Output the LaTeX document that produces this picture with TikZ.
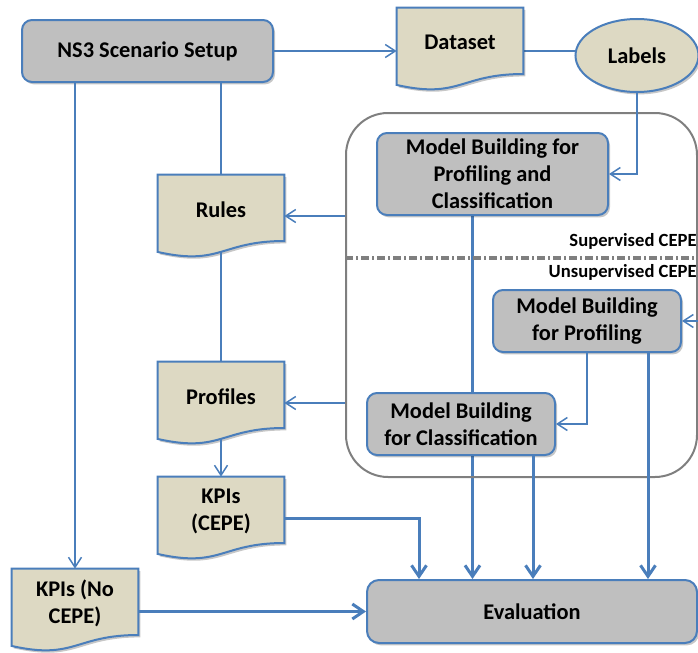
\documentclass[tikz,border=0pt]{standalone}
\usepackage{fontspec}
\setmainfont{Carlito}
\usetikzlibrary{positioning,calc,arrows.meta,shapes.geometric,shadows,backgrounds}

\definecolor{boxgray}{HTML}{BFBFBF}
\definecolor{docbeige}{HTML}{DDD9C3}
\definecolor{edgeblue}{HTML}{4A7EBB}
\definecolor{framegray}{HTML}{7F7F7F}

\tikzset{
  lbl/.style={font=\fontsize{11.2}{13.4}\selectfont\bfseries, align=center},
  softshadow/.style={drop shadow={shadow xshift=1pt, shadow yshift=-1.2pt, opacity=0.22, fill=black}},
  procbox/.style={lbl, draw=edgeblue, line width=1pt, fill=boxgray, rounded corners=5pt, inner sep=0pt, softshadow},
  ellbox/.style={lbl, ellipse, draw=edgeblue, line width=1pt, fill=docbeige, inner sep=0pt, softshadow},
  docframe/.style={minimum width=63pt, minimum height=41pt, inner sep=0pt},
  docshape/.style={draw=edgeblue, line width=1pt, fill=docbeige, softshadow},
  doctext/.style={lbl, inner sep=0pt},
  cepebox/.style={draw=framegray, line width=1pt, rounded corners=21pt, minimum width=175.5pt, minimum height=182pt},
  divider/.style={draw=framegray, line width=1.6pt, dash pattern=on 4pt off 1.5pt on 1pt off 1.5pt},
  caption/.style={font=\fontsize{9.3}{11}\selectfont\bfseries, inner sep=0pt, anchor=east},
  thinline/.style={draw=edgeblue, line width=0.75pt},
  thinarrow/.style={thinline, -{Straight Barb[length=5pt, width=6.5pt]}},
  thickarrow/.style={draw=edgeblue, line width=1.5pt, -{Straight Barb[length=5.5pt, width=7.5pt]}}
}

% document shape with the wavy bottom edge
\newcommand{\docnode}[3]{%
  \node[docframe] (#1) at (#2) {};
  \filldraw[docshape] (#1.north west) -- (#1.north east) -- ($(#1.north east)!0.802!(#1.south east)$)
    .. controls ($(#1.north)!0.802!(#1.south)$) and ($(#1.north)!1.107!(#1.south)$) .. ($(#1.north west)!0.934!(#1.south west)$) -- cycle;
  \node[doctext] (#1-text) at ($(#1.north)!0.42!(#1.south)$) {#3};
}

\begin{document}
\begin{tikzpicture}[x=0.5pt,y=-0.5pt]
  \useasboundingbox (0,0) rectangle (698,653);

  \node[procbox, minimum width=125.5pt, minimum height=31pt] (setup) at (147.5,51) {NS3 Scenario Setup};
  \docnode{dataset}{460,49}{Dataset}
  \node[ellbox, minimum width=61.5pt, minimum height=36.5pt] (labels) at (637,55.5) {Labels};

  % CEPE block
  \node[cepebox] (cepe) at (521.5,295) {};
  \draw[divider] (cepe.west |- 0,258) -- (cepe.east |- 0,258);
  \node[caption] (sup) at (697,241) {Supervised CEPE};
  \node[caption] (unsup) at (697,272) {Unsupervised CEPE};
  \node[procbox, minimum width=115.5pt, minimum height=41pt] (mbpc) at (492.5,174) {Model Building for\\Profiling and\\Classification};
  \node[procbox, minimum width=94pt, minimum height=31pt] (mbp) at (587,321) {Model Building\\for Profiling};
  \node[procbox, minimum width=94pt, minimum height=31pt] (mbc) at (461,424) {Model Building\\for Classification};

  \node[procbox, minimum width=165pt, minimum height=31.5pt, rounded corners=6pt] (eval) at (532,611.5) {Evaluation};

  \docnode{rules}{221,216}{Rules}
  \docnode{profiles}{221,403}{Profiles}
  \docnode{kpic}{221,518}{KPIs\\(CEPE)}
  \docnode{kpin}{75,610}{KPIs (No\\CEPE)}

  % thin links
  \draw[thinarrow] (setup.east) -- (setup.east -| dataset.west);
  \begin{scope}[on background layer]
    \draw[thinline] (dataset.east |- setup.east) -- (setup.east -| labels);
  \end{scope}
  \draw[thinarrow] (labels.south) |- (mbpc.east);
  \draw[thinline] (setup.south -| rules) -- (rules.north);
  \draw[thinline] ($(rules.north)!0.93!(rules.south)$) -- (profiles.north);
  \draw[thinarrow] ($(profiles.north)!0.93!(profiles.south)$) -- (kpic.north);
  \draw[thinarrow] (setup.south -| kpin) -- (kpin.north);
  \draw[thinarrow] (cepe.west |- rules.east) -- (rules.east);
  \draw[thinarrow] (cepe.west |- profiles.east) -- (profiles.east);
  \draw[thinarrow] (mbp.south) |- (mbc.east);
  \coordinate (feed) at (cepe.east |- mbp.east);
  \draw[thinarrow] (feed) -- (mbp.east);

  % thick links into evaluation
  \coordinate (mbpc-out) at ($(mbpc.south)+(-20,0)$);
  \coordinate (mbc-out) at ($(mbc.south)+(72,0)$);
  \coordinate (mbp-out) at ($(mbp.south)+(61,0)$);
  \coordinate (kpic-in) at ($(eval.north west)+(53,0)$);
  \begin{scope}[on background layer]
    \draw[thickarrow] (mbpc-out) -- (mbpc-out |- eval.north);
  \end{scope}
  \draw[thickarrow] (mbc-out) -- (mbc-out |- eval.north);
  \draw[thickarrow] (mbp-out) -- (mbp-out |- eval.north);
  \draw[thickarrow] (kpic.east) -| (kpic-in);
  \draw[thickarrow] (kpin.east |- eval.west) -- (eval.west);
\end{tikzpicture}
\end{document}
